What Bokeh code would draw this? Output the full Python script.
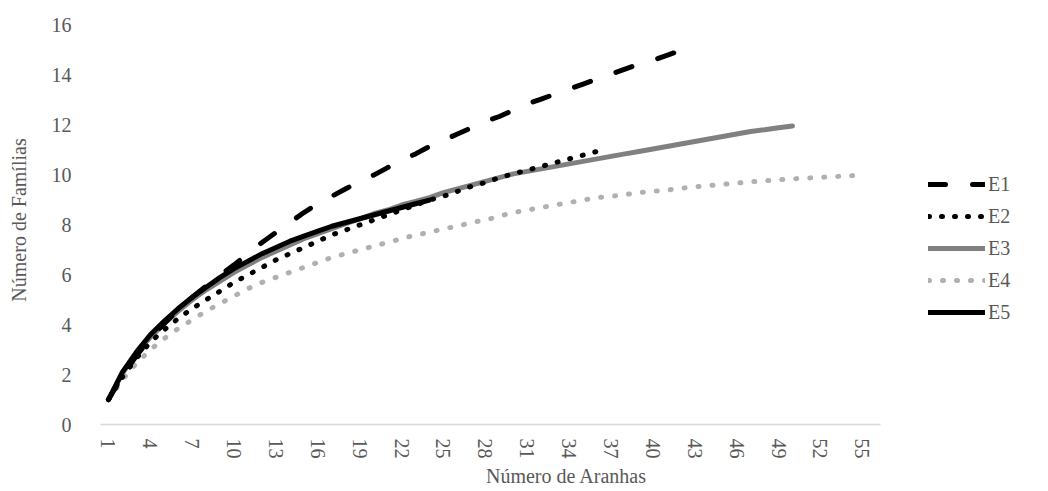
from bokeh.plotting import figure
from bokeh.models import Range1d, FixedTicker, Legend, LegendItem
from bokeh.embed import file_html
from bokeh.resources import INLINE

# ---- data ----
series_names = ["E1", "E2", "E3", "E4", "E5"]
x_tick_labels = [1, 4, 7, 10, 13, 16, 19, 22, 25, 28, 31, 34, 37, 40, 43, 46, 49, 52, 55]
y_ticks = [0, 2, 4, 6, 8, 10, 12, 14, 16]

e1 = [1.0, 1.95, 2.75, 3.45, 4.05, 4.6, 5.1, 5.55, 6.0, 6.4,
      6.85, 7.3, 7.7, 8.1, 8.5, 8.85, 9.15, 9.45, 9.75, 10.0,
      10.3, 10.6, 10.85, 11.15, 11.4, 11.65, 11.9, 12.15, 12.35, 12.6,
      12.85, 13.05, 13.25, 13.45, 13.65, 13.85, 14.05, 14.25, 14.45, 14.6,
      14.8, 15.0]
e2 = [1.0, 1.9, 2.65, 3.3, 3.8, 4.25, 4.65, 5.0, 5.35, 5.7,
      6.0, 6.3, 6.6, 6.85, 7.1, 7.35, 7.6, 7.8, 8.0, 8.2,
      8.4, 8.6, 8.8, 9.0, 9.15, 9.35, 9.55, 9.7, 9.9, 10.05,
      10.2, 10.35, 10.5, 10.65, 10.8, 10.95]
e3 = [1.0, 2.05, 2.85, 3.5, 4.05, 4.55, 5.0, 5.4, 5.75, 6.1,
      6.4, 6.7, 6.95, 7.2, 7.45, 7.65, 7.85, 8.05, 8.25, 8.45,
      8.6, 8.8, 8.95, 9.1, 9.3, 9.45, 9.6, 9.75, 9.9, 10.05,
      10.15, 10.25, 10.35, 10.45, 10.55, 10.65, 10.75, 10.85, 10.95, 11.05,
      11.15, 11.25, 11.35, 11.45, 11.55, 11.65, 11.75, 11.82, 11.9, 11.97]
e4 = [1.0, 1.8, 2.45, 3.0, 3.45, 3.85, 4.2, 4.55, 4.85, 5.15,
      5.45, 5.7, 5.9, 6.1, 6.3, 6.5, 6.7, 6.85, 7.0, 7.15,
      7.3, 7.45, 7.6, 7.7, 7.85, 7.95, 8.1, 8.2, 8.35, 8.5,
      8.6, 8.7, 8.8, 8.9, 9.0, 9.1, 9.15, 9.22, 9.3, 9.35,
      9.4, 9.47, 9.53, 9.58, 9.63, 9.68, 9.73, 9.77, 9.81, 9.85,
      9.88, 9.91, 9.94, 9.97, 10.0]
e5 = [1.0, 2.1, 2.9, 3.6, 4.15, 4.65, 5.1, 5.5, 5.9, 6.25,
      6.55, 6.85, 7.1, 7.35, 7.55, 7.75, 7.95, 8.1, 8.25, 8.4,
      8.55, 8.7, 8.85, 9.0]

FONT = "Liberation Serif"
TXT = "#595959"

X0, X1 = 0.43, 56.3          # extent of the category axis
PX_PER_UNIT = 13.96
FRAME_W = 937
FRAME_H = 409

p = figure(frame_width=FRAME_W, frame_height=FRAME_H,
           output_backend="svg", toolbar_location=None,
           x_range=Range1d(X0, X0 + FRAME_W / PX_PER_UNIT), y_range=Range1d(0, 16.4),
           min_border_left=100, min_border_top=15, min_border_bottom=4,
           min_border_right=0)
p.outline_line_color = None
p.grid.visible = False
p.background_fill_color = "white"
p.border_fill_color = "white"

def xs(vals):
    return list(range(1, len(vals) + 1))

styles = {
    "E1": dict(line_color="black", line_width=5, line_dash="17 27", line_cap="round"),
    "E2": dict(line_color="black", line_width=5, line_dash="1 12", line_cap="round"),
    "E3": dict(line_color="#808080", line_width=5, line_cap="round"),
    "E4": dict(line_color="#b0b0b0", line_width=5, line_dash="1 13", line_cap="round"),
    "E5": dict(line_color="black", line_width=5, line_cap="round"),
}
data = {"E1": e1, "E2": e2, "E3": e3, "E4": e4, "E5": e5}
renderers = {}
for name in ["E4", "E3", "E2", "E1", "E5"]:
    renderers[name] = p.line(xs(data[name]), data[name], **styles[name])

# axes
xa = p.xaxis[0]
xa.ticker = FixedTicker(ticks=x_tick_labels)
xa.bounds = (X0, X1)
xa.major_label_orientation = "vertical"
xa.axis_line_color = "#d9d9d9"
xa.axis_line_width = 1.5
xa.major_tick_line_color = None
xa.minor_tick_line_color = None
xa.major_tick_out = 0
xa.major_tick_in = 0
xa.major_label_standoff = 14
xa.major_label_text_font = FONT
xa.major_label_text_font_size = "20px"
xa.major_label_text_color = TXT
xa.axis_label = "Número  de Aranhas"
xa.axis_label_text_font = FONT
xa.axis_label_text_font_size = "20px"
xa.axis_label_text_font_style = "normal"
xa.axis_label_text_color = TXT
xa.axis_label_standoff = 3

ya = p.yaxis[0]
ya.ticker = FixedTicker(ticks=y_ticks)
ya.axis_line_color = None
ya.major_tick_line_color = None
ya.minor_tick_line_color = None
ya.major_tick_out = 0
ya.major_tick_in = 0
ya.major_label_standoff = 29
ya.major_label_text_font = FONT
ya.major_label_text_font_size = "20px"
ya.major_label_text_color = TXT
ya.axis_label = "Número de Famílias"
ya.axis_label_text_font = FONT
ya.axis_label_text_font_size = "20px"
ya.axis_label_text_font_style = "normal"
ya.axis_label_text_color = TXT
ya.axis_label_standoff = 19

legend = Legend(items=[LegendItem(label=n, renderers=[renderers[n]]) for n in series_names],
                location=(828, 96), glyph_width=57, glyph_height=32, label_height=32,
                label_standoff=3, spacing=0, padding=0, margin=0,
                border_line_color=None, background_fill_alpha=0,
                label_text_font=FONT, label_text_font_size="20px",
                label_text_color=TXT)
p.add_layout(legend, "center")

open("out.html", "w").write(file_html(p, INLINE))
